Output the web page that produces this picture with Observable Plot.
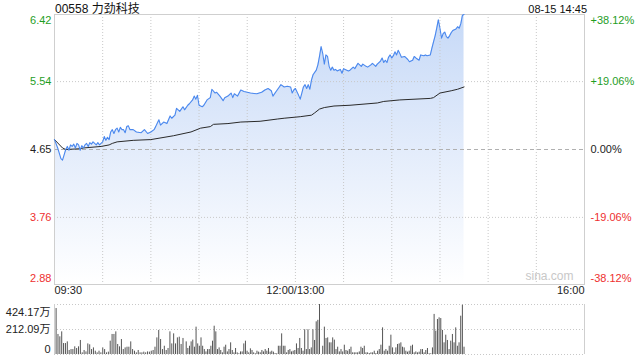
<!DOCTYPE html>
<html><head><meta charset="utf-8">
<script src="https://cdn.jsdelivr.net/npm/d3@7"></script>
<script src="https://cdn.jsdelivr.net/npm/@observablehq/plot@0.6"></script>
<style>
body{margin:0;background:#fff;}
#wrap{position:relative;width:640px;height:360px;overflow:hidden;font-family:"Liberation Sans",Arial,"Noto Sans CJK SC",sans-serif;}
#title{position:absolute;left:55px;top:1px;font-size:12px;line-height:16px;color:#111;white-space:nowrap;z-index:2;}
#stamp{position:absolute;right:53px;top:1px;font-size:11px;line-height:16px;color:#111;white-space:nowrap;z-index:2;}
#price{position:absolute;left:0;top:0;}
#vol{position:absolute;left:0;top:300px;}
</style></head>
<body><div id="wrap">
<div id="title"></div><div id="stamp"></div>
<div id="price"></div><div id="vol"></div>
</div>
<script>
// ---------- data ----------
const stockTitle = "00558 力劲科技";
const stamp = "08-15 14:45";
const preClose = 4.65;
const priceTicks = [6.42, 5.54, 4.65, 3.76, 2.88];
const pctLabels = ["+38.12%", "+19.06%", "0.00%", "-19.06%", "-38.12%"];
const timeTickMin = [0, 150, 330];
const timeLabels = ["09:30", "12:00/13:00", "16:00"];
const volTicks = [424.17, 212.09, 0];
const volLabels = ["424.17万", "212.09万", "0"];

// trading minute (0 = 09:30, 150 = 12:00/13:00, 330 = 16:00) and price
const priceMin = [0,2,4,5,6,7,8,9,10,11,12,13,14,15,16,17,18,19,20,21,22,23,24,26,27,28,29,30,31,32,33,34,35,36,37,38,39,40,41,42,43,44,45,46,47,49,51,54,56,58,60,62,63,65,66,68,70,72,73,75,76,78,80,81,83,84,86,87,88,89,90,92,93,95,97,98,100,101,103,105,106,108,110,111,112,114,116,118,120,122,126,129,131,133,135,136,138,140,141,143,145,147,148,149,150,152,153,154,155,156,157,158,159,160,161,163,164,165,166,167,168,169,170,171,172,173,174,175,176,178,179,180,181,183,184,186,187,189,191,192,194,195,197,198,200,201,203,204,205,206,207,208,209,210,211,212,213,214,215,216,218,220,221,223,224,225,227,228,230,231,232,234,235,236,237,238,239,240,241,242,243,244,245,246,247,248,250,251,252,253,254,255];
const priceVal = [4.78,4.67,4.53,4.51,4.58,4.65,4.69,4.64,4.71,4.69,4.72,4.67,4.73,4.71,4.64,4.70,4.67,4.71,4.73,4.69,4.74,4.72,4.75,4.71,4.74,4.71,4.73,4.75,4.82,4.77,4.81,4.78,4.88,4.91,4.86,4.91,4.93,4.88,4.94,4.91,4.91,4.87,4.95,4.96,4.91,4.91,4.88,4.87,4.91,4.86,4.88,4.91,4.95,5.04,4.97,5.01,4.99,5.09,5.06,5.10,5.19,5.15,5.21,5.17,5.23,5.25,5.30,5.35,5.31,5.36,5.23,5.21,5.23,5.30,5.33,5.44,5.39,5.40,5.35,5.29,5.33,5.35,5.39,5.33,5.38,5.35,5.43,5.41,5.40,5.39,5.38,5.40,5.43,5.45,5.42,5.35,5.41,5.47,5.50,5.47,5.48,5.47,5.39,5.43,5.45,5.36,5.31,5.39,5.47,5.50,5.45,5.50,5.44,5.56,5.63,5.69,5.76,5.87,6.00,5.91,5.77,5.89,5.87,5.74,5.69,5.73,5.69,5.70,5.68,5.70,5.65,5.71,5.70,5.68,5.69,5.73,5.71,5.78,5.74,5.77,5.74,5.73,5.76,5.78,5.74,5.77,5.81,5.85,5.79,5.82,5.79,5.86,5.89,5.85,5.88,5.93,5.89,5.95,5.91,5.86,5.87,5.83,5.80,5.82,5.87,5.85,5.82,5.89,5.88,5.89,5.88,5.89,5.98,6.06,6.14,6.24,6.35,6.24,6.11,6.17,6.19,6.13,6.11,6.14,6.18,6.21,6.23,6.26,6.24,6.30,6.41,6.42];

const avgMin = [0,5,7,16,18,29,34,36,39,49,60,74,85,91,97,99,108,116,128,139,143,153,160,162,165,168,174,184,201,205,215,234,236,240,247,251,255];
const avgVal = [4.78,4.67,4.65,4.66,4.67,4.69,4.71,4.73,4.75,4.77,4.78,4.83,4.88,4.93,4.95,4.98,4.99,5.01,5.02,5.05,5.06,5.08,5.10,5.13,5.18,5.20,5.22,5.23,5.26,5.28,5.30,5.32,5.33,5.39,5.42,5.44,5.47];

// volume (万股), three stretches of the session
const volMorningA = [390,170,150,192,93,93,107,34,42,42,65,51,65,119,14,34,22,90,82,42,56,28,14,28,14,56,42,14,20,113,170,170,192,85,65,127,42,56,62,62,107,42,28,14,34,14,14,20,14,22,20,28,34,62,141,204,127,42,70,34,51,192,90,175,90,141,147,85,136];
const volMorningB = [107,51,70,107,122,62,232,90,70,141,70,42,22,42,42,70,113,240,192,42,56,34,14,62,79,22,42,99,34,14,51,14,6,22,22,90,113,28,14,48,34,14,6,28,20,14,34,22,42,28,51,20,28,20,8,6,70,70,175,70,70,14,34,42,22,28,34,90,51,136,51,28,210,42,210,42,56,210,119,277,290,424];
const volAfternoon = [70,232,136,141,99,99,141,122,42,62,22,42,22,79,34,28,42,62,14,14,14,14,22,62,51,70,14,14,8,14,14,28,8,28,42,79,226,28,42,28,70,164,56,14,56,85,90,99,62,56,28,20,28,70,79,14,22,14,20,42,42,14,34,51,6,6,56,340,198,297,311,305,204,99,164,119,42,113,170,99,226,70,99,325,418,62];
const volSegStart = [1, 82, 167];
const volSegEnd = [80, 165, 255];

// ---------- build ----------
const FONT = '"Liberation Sans", Arial, "Noto Sans CJK SC", sans-serif';
const GREEN = "#1f9e1f", RED = "#ee3030", DARK = "#222";
const colorFor = v => Math.abs(v - preClose) < 1e-9 ? DARK : (v > preClose ? GREEN : RED);

document.getElementById("title").textContent = stockTitle;
document.getElementById("stamp").textContent = stamp;

const prices = priceMin.map((t, i) => ({t, p: priceVal[i]}));
const avg = avgMin.map((t, i) => ({t, p: avgVal[i]}));
const vols = [];
[volMorningA, volMorningB, volAfternoon].forEach((seg, s) => {
  const a = volSegStart[s], b = volSegEnd[s];
  seg.forEach((v, i) => vols.push({t: a + i * (b - a) / (seg.length - 1), v}));
});

const gridMin = d3.range(30, 330, 30);
const yTop = priceTicks[0], yBot = priceTicks[priceTicks.length - 1];

const labelMarks = [];
priceTicks.forEach((v, i) => {
  const dy = i === 0 ? 6 : (i === priceTicks.length - 1 ? -6.5 : 0);
  labelMarks.push(Plot.text([v], {y: d => d, text: d => d.toFixed(2), frameAnchor: "left", textAnchor: "end", dx: -3, dy, fill: colorFor(v)}));
  labelMarks.push(Plot.text([v], {y: d => d, text: () => pctLabels[i], frameAnchor: "right", textAnchor: "start", dx: 6, dy, fill: colorFor(v)}));
});
const anchors = ["start", "middle", "end"];
timeTickMin.forEach((t, i) => {
  labelMarks.push(Plot.text([t], {x: d => d, text: () => timeLabels[i], frameAnchor: "bottom", dy: 9, textAnchor: anchors[i], fill: "#222"}));
});

const pricePlot = Plot.plot({
  width: 640, height: 300,
  marginLeft: 54, marginRight: 56, marginTop: 14, marginBottom: 16,
  x: {domain: [0, 330], axis: null},
  y: {domain: [yBot, yTop], axis: null},
  style: {fontFamily: FONT, fontSize: "11px", background: "transparent", overflow: "visible"},
  marks: [
    Plot.areaY(prices, {x: "t", y1: yBot, y2: "p", fill: "url(#priceGrad)"}),
    Plot.ruleX(gridMin, {stroke: "#c8c8c8", strokeDasharray: "1,2"}),
    Plot.ruleY([priceTicks[1], priceTicks[3]], {stroke: "#c8c8c8", strokeDasharray: "1,2"}),
    Plot.ruleY([preClose], {stroke: "#b0b0b0", strokeDasharray: "4,3"}),
    Plot.text(["sina.com"], {frameAnchor: "bottom-right", textAnchor: "end", dx: -11, dy: -5, fill: "#c8c8c8", fontSize: 12}),
    Plot.frame({stroke: "#cfcfcf"}),
    Plot.line(avg, {x: "t", y: "p", stroke: "#2a2a2a", strokeWidth: 1}),
    Plot.line(prices, {x: "t", y: "p", stroke: "#4a88ee", strokeWidth: 1.1}),
    ...labelMarks
  ]
});
const defs = d3.select(pricePlot).insert("defs", ":first-child");
const g = defs.append("linearGradient").attr("id", "priceGrad")
  .attr("gradientUnits", "userSpaceOnUse").attr("x1", 0).attr("x2", 0).attr("y1", 14).attr("y2", 284);
g.append("stop").attr("offset", "0%").attr("stop-color", "#c6d9f7");
g.append("stop").attr("offset", "50%").attr("stop-color", "#e3ecfb");
g.append("stop").attr("offset", "100%").attr("stop-color", "#ffffff");
document.getElementById("price").appendChild(pricePlot);

const volLabelMarks = volTicks.map((v, i) => Plot.text([v], {
  y: d => d, text: () => volLabels[i], frameAnchor: "left", textAnchor: "end", dx: -4,
  dy: i === 0 ? 8 : (i === volTicks.length - 1 ? -5 : 0), fill: "#222"
}));

const volPlot = Plot.plot({
  width: 640, height: 60,
  marginLeft: 54, marginRight: 56, marginTop: 4, marginBottom: 6,
  x: {domain: [0, 330], axis: null},
  y: {domain: [0, volTicks[0]], axis: null},
  style: {fontFamily: FONT, fontSize: "11px", background: "transparent", overflow: "visible"},
  marks: [
    Plot.ruleY(volTicks, {stroke: "#c8c8c8", strokeDasharray: "1,2"}),
    Plot.ruleX([0, 330], {stroke: "#cfcfcf"}),
    Plot.ruleX(vols, {x: "t", y1: 0, y2: "v", stroke: "#555", strokeWidth: 1}),
    ...volLabelMarks
  ]
});
document.getElementById("vol").appendChild(volPlot);
</script>
</body></html>
